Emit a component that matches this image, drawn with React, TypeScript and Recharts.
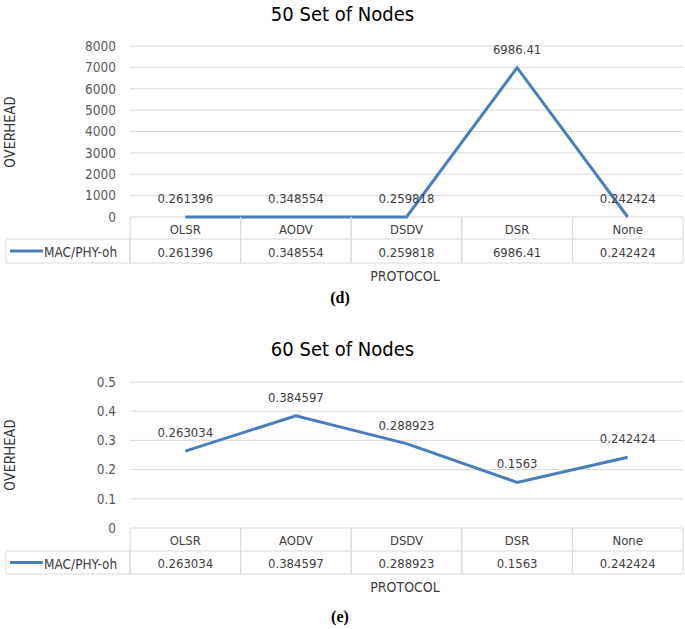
import React from "react";
import {
  LineChart,
  Line,
  XAxis,
  YAxis,
  CartesianGrid,
  LabelList,
} from "recharts";

const categories = ["OLSR", "AODV", "DSDV", "DSR", "None"];
const overhead50 = [0.261396, 0.348554, 0.259818, 6986.41, 0.242424];
const overhead60 = [0.263034, 0.384597, 0.288923, 0.1563, 0.242424];
const ticks50 = [0, 1000, 2000, 3000, 4000, 5000, 6000, 7000, 8000];
const ticks60 = [0, 0.1, 0.2, 0.3, 0.4, 0.5];
const seriesName = "MAC/PHY-oh";

const FONT = "'Liberation Sans Narrow', 'DejaVu Sans Condensed', Roboto, sans-serif";
const BLUE = "#4a7ebb";
const BORDER = "#d9d9d9";
const TEXT = "#404040";
const W = 685;
const PLOT_LEFT = 130;
const PLOT_RIGHT = 683;

interface PanelProps {
  top: number;
  title: string;
  caption: string;
  values: number[];
  ticks: number[];
  titleY: number;
  plotTop: number;
  plotBottom: number;
  row1: number;
  row2: number;
  protocolY: number;
  captionY: number;
}

function Panel(p: PanelProps) {
  const data = categories.map((c, i) => ({ name: c, value: p.values[i] }));
  const band = (PLOT_RIGHT - PLOT_LEFT) / categories.length;
  const height = p.row2 + 2;

  // draws the data table under the plot, one column per category
  const renderTick = (props: any) => {
    const { x, index, payload } = props;
    const half = band / 2;
    const left = x - half;
    const right = x + half;
    const mid2 = (p.row1 + p.row2) / 2;
    return (
      <g>
        {/* top border comes from the grid line at 0, so the series line stays on top */}
        <path
          d={`M${left},${p.plotBottom}V${p.row2}H${right}V${p.plotBottom}M${left},${p.row1}H${right}`}
          fill="none"
          stroke={BORDER}
        />
        <text x={x} y={(p.plotBottom + p.row1) / 2 + 1} textAnchor="middle" dominantBaseline="central" fill={TEXT} fontSize={13} fontFamily={FONT}>
          {payload.value}
        </text>
        <text x={x} y={mid2 + 1} textAnchor="middle" dominantBaseline="central" fill={TEXT} fontSize={13} fontFamily={FONT}>
          {String(data[index].value)}
        </text>
        {index === 0 && (
          <g>
            <rect x={6} y={p.row1} width={left - 6} height={p.row2 - p.row1} fill="none" stroke={BORDER} />
            <line x1={10} x2={43} y1={mid2} y2={mid2} stroke={BLUE} strokeWidth={3} />
            <text x={44} y={mid2 + 1} textAnchor="start" dominantBaseline="central" fill={TEXT} fontSize={13.5} fontFamily={FONT}>
              {seriesName}
            </text>
          </g>
        )}
      </g>
    );
  };

  return (
    <div style={{ position: "absolute", left: 0, top: p.top, width: W, height: p.captionY + 20 }}>
      <div style={{ position: "absolute", left: 0, width: W, top: p.titleY - 12, lineHeight: "24px", textAlign: "center", fontFamily: FONT, fontSize: 20, color: "#000" }}>
        {p.title}
      </div>
      <div style={{ position: "absolute", left: 10 - 50, top: (p.plotTop + p.plotBottom) / 2 - 10, width: 100, lineHeight: "20px", textAlign: "center", transform: "rotate(-90deg)", fontFamily: "Roboto, sans-serif", fontSize: 14, color: "#333" }}>
        OVERHEAD
      </div>
      <LineChart
        width={W}
        height={height}
        data={data}
        margin={{ top: p.plotTop, right: W - PLOT_RIGHT, bottom: 2, left: 10 }}
        style={{ position: "absolute", left: 0, top: 0 }}
      >
        <CartesianGrid vertical={false} stroke={BORDER} />
        <XAxis
          dataKey="name"
          scale="band"
          interval={0}
          height={p.row2 - p.plotBottom}
          tickLine={false}
          axisLine={false}
          tick={renderTick}
        />
        <YAxis
          width={120}
          domain={[p.ticks[0], p.ticks[p.ticks.length - 1]]}
          ticks={p.ticks}
          interval={0}
          tickLine={false}
          axisLine={false}
          tickMargin={8}
          tick={{ fill: "#595959", fontSize: 13.5, fontFamily: FONT }}
        />
        <Line
          dataKey="value"
          name={seriesName}
          stroke={BLUE}
          strokeWidth={3}
          dot={false}
          isAnimationActive={false}
        >
          <LabelList dataKey="value" position="top" offset={14} fill={TEXT} fontSize={13} fontFamily={FONT} formatter={(v: any) => String(v)} />
        </Line>
      </LineChart>
      <div style={{ position: "absolute", left: 305, width: 200, top: p.protocolY - 10, lineHeight: "20px", textAlign: "center", fontFamily: FONT, fontSize: 14, color: TEXT }}>
        PROTOCOL
      </div>
      <div style={{ position: "absolute", left: 240, width: 200, top: p.captionY - 10, lineHeight: "20px", textAlign: "center", fontFamily: "'Liberation Serif', serif", fontWeight: "bold", fontSize: 16, color: "#000" }}>
        {p.caption}
      </div>
    </div>
  );
}

export default function App() {
  return (
    <div style={{ position: "absolute", left: 0, top: 0, width: W, height: 629, background: "#fff", overflow: "hidden" }}>
      <Panel
        top={0}
        title="50 Set of Nodes"
        caption="(d)"
        values={overhead50}
        ticks={ticks50}
        titleY={14}
        plotTop={46}
        plotBottom={217}
        row1={239}
        row2={263}
        protocolY={276}
        captionY={298}
      />
      <Panel
        top={320}
        title="60 Set of Nodes"
        caption="(e)"
        values={overhead60}
        ticks={ticks60}
        titleY={29}
        plotTop={62}
        plotBottom={208}
        row1={231}
        row2={254}
        protocolY={267}
        captionY={297}
      />
    </div>
  );
}
